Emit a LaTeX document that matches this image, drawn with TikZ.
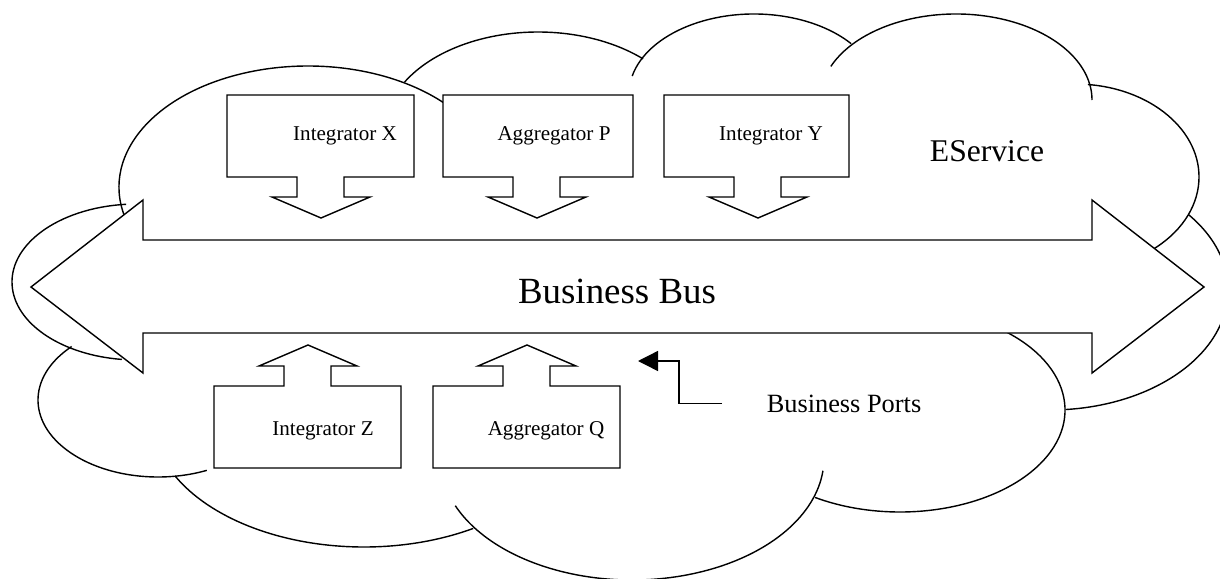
\documentclass[tikz,border=0pt]{standalone}
\usepackage{fontspec}
\setmainfont{Liberation Serif}
\usepackage{tikz}
\usetikzlibrary{arrows.meta}

% one bulge of the cloud: centre, radii, start and end angle
\newcommand{\lobe}[6]{\draw (#1,#2) ++(#5:#3 and #4) arc[start angle=#5,end angle=#6,x radius=#3,y radius=#4];}
% block arrows: left and right edge of the box
\newcommand{\downcallout}[2]{\draw[calloutbox] (#1,95)--(#2,95)--(#2,177)--({#1+117},177)--({#1+117},197)--({#1+143},197)--({#1+94},218)--({#1+45},197)--({#1+70},197)--({#1+70},177)--(#1,177)--cycle;}
\newcommand{\upcallout}[2]{\draw[calloutbox] (#1,468)--(#2,468)--(#2,386)--({#1+117},386)--({#1+117},366)--({#1+143},366)--({#1+94},345)--({#1+45},366)--({#1+70},366)--({#1+70},386)--(#1,386)--cycle;}

\begin{document}
\begin{tikzpicture}[x=0.02cm,y=-0.02cm,line width=0.8pt,
  calloutbox/.style={draw,fill=white},
  boxlabel/.style={anchor=base,inner sep=0pt,font=\fontsize{12}{14}\selectfont}]
  \useasboundingbox (0,0) rectangle (1220,578);
  \clip (0,0) rectangle (1220,578);
  % cloud
  \lobe{308}{187}{189}{121}{160}{320}
  \lobe{538}{132}{154}{100}{210}{313}
  \lobe{754}{94}{125}{80}{193}{321}
  \lobe{956}{100}{136}{86}{203}{360}
  \lobe{1075}{177}{124}{93}{-84}{55}
  \lobe{1050}{290}{178}{120}{-39}{85}
  \lobe{900}{410}{165}{102}{-60}{121}
  \lobe{632}{458}{192}{122}{157}{6}
  \lobe{364}{417}{212}{130}{153}{59}
  \lobe{158}{400}{120}{77}{224}{66}
  \lobe{137}{282}{125}{78}{265}{97}
  % bus
  \draw[calloutbox] (143,240)--(1092,240)--(1092,200)--(1204,287)--(1092,373)--(1092,333)--(143,333)--(143,373)--(31,287)--(143,200)--cycle;
  \node (bus) at (617,303) [anchor=base,inner sep=0pt,font=\fontsize{21}{25}\selectfont]{Business Bus};
  \downcallout{227}{414}
  \downcallout{443}{633}
  \downcallout{664}{849}
  \upcallout{214}{401}
  \upcallout{433}{620}
  \node (intX) at (345,140) [boxlabel]{Integrator X};
  \node (aggP) at (554,140) [boxlabel]{Aggregator P};
  \node (intY) at (771,140) [boxlabel]{Integrator Y};
  \node (intZ) at (323,435) [boxlabel]{Integrator Z};
  \node (aggQ) at (546,435) [boxlabel]{Aggregator Q};
  \node (eserv) at (987,161) [anchor=base,inner sep=0pt,font=\fontsize{18}{22}\selectfont]{EService};
  \node (ports) at (844,412) [anchor=base,inner sep=0pt,font=\fontsize{15}{18}\selectfont]{Business Ports};
  \coordinate (portsto) at (638,361);
  \draw[-{Triangle[length=0.4cm,width=0.4cm]}] ([xshift=-0.88cm]ports.west) -- ++(-43,0) |- (portsto);
\end{tikzpicture}
\end{document}
